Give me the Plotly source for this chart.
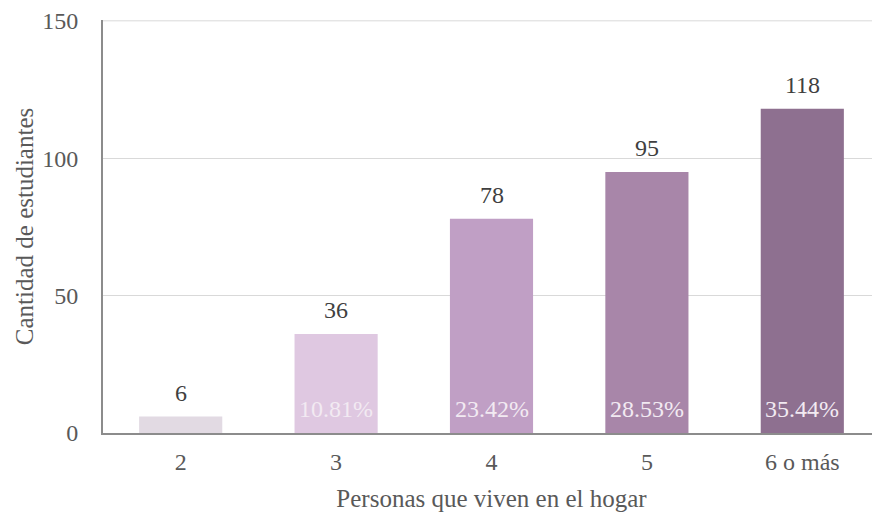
import plotly.graph_objects as go

categories = ["2", "3", "4", "5", "6 o más"]
counts = [6, 36, 78, 95, 118]
percents = ["1.80%", "10.81%", "23.42%", "28.53%", "35.44%"]
show_pct = [False, True, True, True, True]
bar_colors = ["#E2DAE3", "#DFC8E1", "#C09FC5", "#A886A9", "#8E7090"]
y_max = 150

FONT = "Times New Roman, Liberation Serif, serif"

fig = go.Figure()
fig.add_trace(go.Bar(
    x=categories,
    y=counts,
    marker=dict(color=bar_colors, line=dict(width=0)),
    showlegend=False,
    hoverinfo="skip",
))

# value labels above bars (x given as category index)
for i, val in enumerate(counts):
    fig.add_annotation(
        x=i, y=val, text=str(val), showarrow=False,
        yanchor="bottom", yshift=9,
        font=dict(family=FONT, size=24, color="#404040"),
    )

# percentage labels inside the bars
for i, (pct, show) in enumerate(zip(percents, show_pct)):
    if not show:
        continue
    fig.add_annotation(
        x=i, y=0, text=pct, showarrow=False,
        yanchor="bottom", yshift=9,
        font=dict(family=FONT, size=24, color="#F2EAF2"),
    )

# plotly drops the gridline that sits on the top edge, so draw it by hand
fig.add_shape(
    type="line", xref="paper", yref="y",
    x0=0, x1=1, y0=y_max, y1=y_max,
    line=dict(color="#d9d9d9", width=1), layer="below",
)

# page body adds an 8px margin, so the figure is sized to fit inside 880x519
fig.update_layout(
    width=872,
    height=511,
    margin=dict(l=95, r=0, t=9, b=86),
    plot_bgcolor="white",
    paper_bgcolor="white",
    bargap=0.465,
    font=dict(family=FONT, size=24, color="#595959"),
    xaxis=dict(
        type="category",
        title=dict(text="Personas que viven en el hogar", font=dict(size=25, color="#595959"), standoff=16),
        showline=True, linecolor="#8c8c8c", linewidth=2,
        ticks="", ticklabelstandoff=6,
        tickfont=dict(size=24, color="#595959"),
        showgrid=False,
    ),
    yaxis=dict(
        title=dict(text="Cantidad de estudiantes", font=dict(size=25, color="#595959"), standoff=1),
        range=[0, 150.3], dtick=50,
        showline=True, linecolor="#8c8c8c", linewidth=2,
        gridcolor="#d9d9d9", gridwidth=1,
        zeroline=False,
        tickfont=dict(size=24, color="#595959"),
        ticks="", ticklabelstandoff=18,
        ticklabeloverflow="allow",
    ),
)

fig.write_html("out.html")
